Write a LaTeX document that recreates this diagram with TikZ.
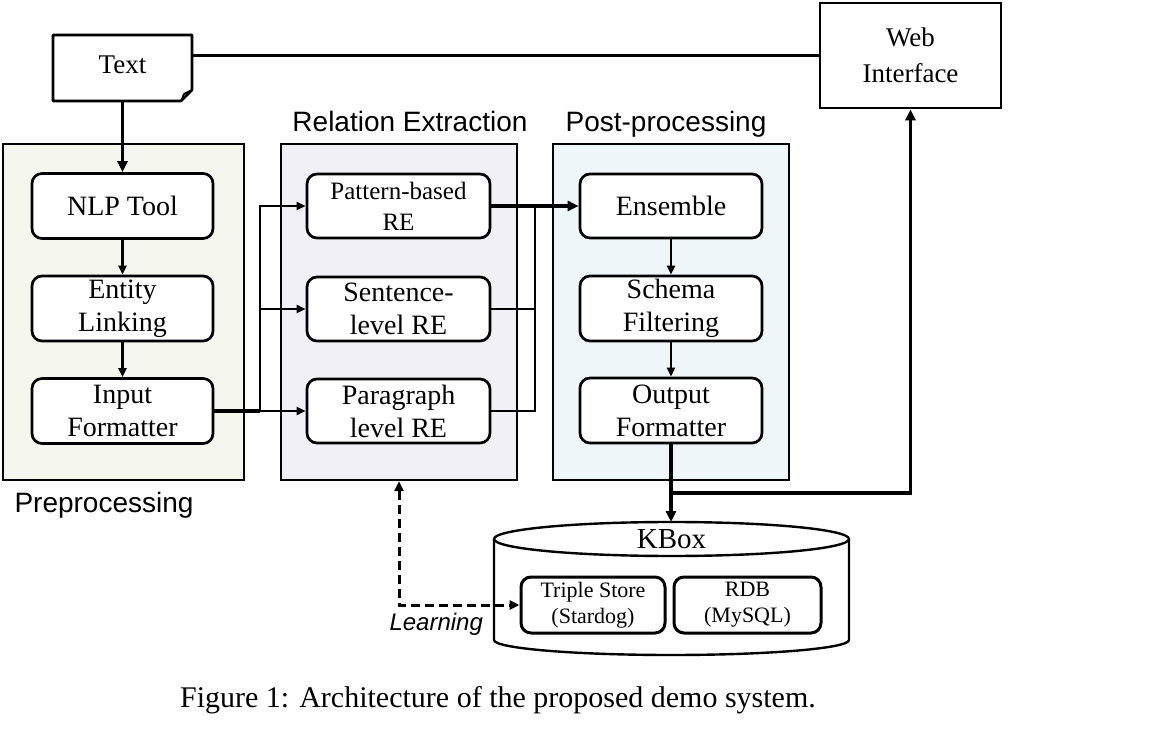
\documentclass[tikz,border=0pt]{standalone}
\usepackage{fontspec}
\setmainfont{Liberation Serif}
\setsansfont{Liberation Sans}
\usetikzlibrary{arrows.meta,calc}
\definecolor{prefill}{RGB}{245,246,238}
\definecolor{refill}{RGB}{242,240,247}
\definecolor{postfill}{RGB}{238,246,249}
\begin{document}
\begin{tikzpicture}[x=1pt,y=-1pt,
  box/.style={draw, line width=2.7pt, rounded corners=10pt, fill=white, align=center, inner sep=0pt,
    minimum width=181pt, minimum height=65pt, font=\fontsize{28}{33}\selectfont},
  cont/.style={draw, line width=2.4pt, inner sep=0pt, minimum width=236pt, minimum height=336pt},
  grptitle/.style={font=\sffamily\fontsize{28}{32}\selectfont, anchor=base},
  tarrow/.style={line width=2.3pt, -{Triangle[length=9pt,width=8pt]}},
  barrow/.style={line width=3.5pt, -{Triangle[length=11pt,width=10pt]}},
  mline/.style={line width=2.5pt},
  ]
\useasboundingbox (0,0) rectangle (1168,743);

% containers
\node[cont, fill=prefill, minimum width=241pt] (pre) at (123.5,312) {};
\node[cont, fill=refill] (re) at (399,312) {};
\node[cont, fill=postfill] (post) at (671,312) {};

% group titles
\node[grptitle] (tre) at (410,132) {Relation Extraction};
\node[grptitle] (tpost) at (666,132) {Post-processing};
\node[grptitle, anchor=base west] (tpre) at (11,512) {Preprocessing};

% Text document
\node[minimum width=139pt, minimum height=66pt, inner sep=0pt] (txt) at (122.5,68) {};
\draw[line width=2.7pt, line join=round] (53,35) -- (192,35) -- (192,90) -- (181,101) -- (53,101) -- cycle;
\draw[line width=1.8pt, line join=round] (181,101) -- (184,94) -- (192,90);
\node[font=\fontsize{27}{31}\selectfont, anchor=base] (txtlabel) at (122.5,74) {Text};

% Web interface
\node[draw, line width=2.7pt, minimum width=181pt, minimum height=105pt, inner sep=0pt, align=center,
  font=\fontsize{27}{36}\selectfont] (web) at (910.5,55.5) {Web\\Interface};

% preprocessing boxes
\node[box] (nlp) at (122.5,206) {NLP Tool};
\node[box] (ent) at (122.5,308.5) {Entity\\Linking};
\node[box] (inp) at (122.5,411) {Input\\Formatter};

% relation extraction boxes
\node[box, minimum width=183pt, minimum height=64pt, font=\fontsize{25}{31}\selectfont] (pat) at (398.5,206) {Pattern-based\\RE};
\node[box, minimum width=183pt, minimum height=64pt] (sen) at (398.5,309) {Sentence-\\level RE};
\node[box, minimum width=183pt, minimum height=64pt] (par) at (398.5,411) {Paragraph\\level RE};

% post-processing boxes
\node[box, minimum width=182pt, minimum height=64pt] (ens) at (671,206) {Ensemble};
\node[box, minimum width=182pt] (sch) at (671,308.5) {Schema\\Filtering};
\node[box, minimum width=182pt] (out) at (671,410.5) {Output\\Formatter};

% KBox cylinder
\draw[line width=2.4pt, fill=white] (494,539) -- (494,640) arc[start angle=180, end angle=360, x radius=177.5pt, y radius=15pt] -- (849,539);
\draw[line width=2.4pt, fill=white] (671.5,539) ellipse [x radius=177.5pt, y radius=17pt];
\coordinate (kbtop) at (671,522);
\node[font=\fontsize{29}{32}\selectfont, anchor=base] (kbox) at (671.5,548) {KBox};
\node[box, line width=3pt, minimum width=144pt, minimum height=56pt, font=\fontsize{22}{26}\selectfont] (ts) at (593,605) {Triple Store\\(Stardog)};
\node[box, line width=3pt, minimum width=147pt, minimum height=56pt, font=\fontsize{22}{26}\selectfont] (rdb) at (747.5,605) {RDB\\(MySQL)};

% connectors
\draw[line width=3.5pt] (txt.east |- web.west) -- (web.west);
\draw[barrow] (txt.south) -- (nlp.north);
\draw[tarrow] (nlp) -- (ent);
\draw[tarrow] (ent) -- (inp);

\coordinate (sp) at (260,411);
\draw[line width=3.5pt] (inp.east) -- (sp);
\draw[mline, -{Triangle[length=9pt,width=8pt]}] (sp) |- (pat.west);
\draw[mline, -{Triangle[length=9pt,width=8pt]}] (sp |- sen.west) -- (sen.west);
\draw[mline, -{Triangle[length=9pt,width=8pt]}] (sp) -- (par.west);

\coordinate (jn) at (535,206);
\draw[mline] (par.east) -| (jn);
\draw[mline] (sen.east) -- (sen.east -| jn);
\draw[barrow] (pat.east) -- (ens.west);

\draw[tarrow] (ens) -- (sch);
\draw[tarrow] (sch) -- (out);

\draw[barrow] (out.south) -- (kbtop);
\coordinate (br) at (671,493);
\draw[barrow] (br) -| (web.south);

\draw[line width=3pt, dash pattern=on 9pt off 5pt, {Triangle[length=10pt,width=9pt]}-{Triangle[length=10pt,width=9pt]}] (re.south) |- (ts.west);
\node[font=\sffamily\itshape\fontsize{24}{28}\selectfont, anchor=base west] (learn) at (386,630) {Learning};

% caption
\node[font=\fontsize{30}{34}\selectfont] (cap) at (498,700) {Figure 1: Architecture of the proposed demo system.};
\end{tikzpicture}
\end{document}
